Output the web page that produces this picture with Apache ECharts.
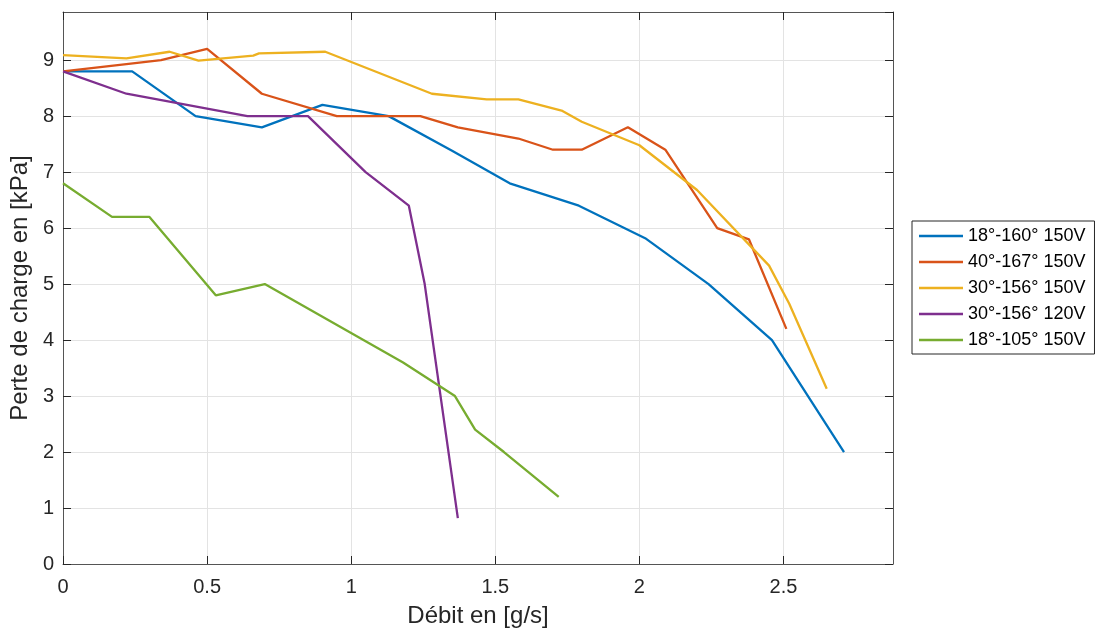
<!DOCTYPE html>
<html>
<head>
<meta charset="utf-8">
<script src="https://cdn.jsdelivr.net/npm/echarts@6/dist/echarts.min.js"></script>
<style>
html,body{margin:0;padding:0;background:#fff;}
#chart{width:1099px;height:636px;}
</style>
</head>
<body>
<div id="chart"></div>
<script>
const seriesNames = ['18°-160° 150V', '40°-167° 150V', '30°-156° 150V', '30°-156° 120V', '18°-105° 150V'];
const seriesColors = ['#0072BD', '#D95319', '#EDB120', '#7E2F8E', '#77AC30'];

const blue = [[0,8.8],[0.24,8.8],[0.46,8.0],[0.69,7.8],[0.9,8.2],[1.13,8.0],[1.35,7.38],[1.55,6.8],[1.79,6.4],[2.02,5.82],[2.24,5.0],[2.46,4.0],[2.71,2.0]];
const orange = [[0,8.8],[0.22,8.93],[0.34,9.0],[0.5,9.2],[0.69,8.4],[0.95,8.0],[1.24,8.0],[1.37,7.8],[1.58,7.6],[1.7,7.4],[1.8,7.4],[1.96,7.8],[2.09,7.4],[2.27,6.0],[2.38,5.8],[2.51,4.2]];
const yellow = [[0,9.09],[0.22,9.03],[0.37,9.15],[0.47,8.99],[0.66,9.08],[0.68,9.12],[0.91,9.15],[1.28,8.4],[1.47,8.3],[1.58,8.3],[1.73,8.1],[1.8,7.9],[2.0,7.48],[2.2,6.68],[2.45,5.33],[2.52,4.65],[2.65,3.13]];
const purple = [[0,8.8],[0.22,8.4],[0.64,8.0],[0.85,8.0],[1.05,7.0],[1.2,6.4],[1.255,5.0],[1.37,0.82]];
const green = [[0,6.8],[0.17,6.2],[0.3,6.2],[0.53,4.8],[0.7,5.0],[1.18,3.6],[1.36,3.0],[1.43,2.4],[1.53,2.0],[1.72,1.2]];
const allData = [blue, orange, yellow, purple, green];

const xTicks = [0, 0.5, 1, 1.5, 2, 2.5];
const yTicks = [0, 1, 2, 3, 4, 5, 6, 7, 8, 9];
const xName = 'Débit en [g/s]';
const yName = 'Perte de charge en [kPa]';

const FONT = '"Liberation Sans", Arial, Helvetica, sans-serif';
const TXT = '#262626';
const AXC = '#555555';

const fmt = v => {
  const x = xTicks.find(t => Math.abs(t - v) < 1e-9);
  return x === undefined ? '' : String(x);
};
const fmtY = v => {
  const y = yTicks.find(t => Math.abs(t - v) < 1e-9);
  return y === undefined ? '' : String(y);
};

const chart = echarts.init(document.getElementById('chart'), null, {renderer: 'canvas'});
const baseAxis = {
  axisLine: {show: true, onZero: false, lineStyle: {color: AXC, width: 1}},
  axisTick: {show: true, inside: true, length: 8, lineStyle: {color: TXT, width: 1}},
  splitLine: {show: false}
};
chart.setOption({
  animation: false,
  backgroundColor: '#fff',
  textStyle: {fontFamily: FONT},
  grid: {left: 63, right: 206, top: 12, bottom: 72, containLabel: false},
  legend: {
    orient: 'vertical',
    left: 912, top: 221,
    data: seriesNames.map(n => ({name: n, icon: 'rect'})),
    itemWidth: 44, itemHeight: 2.5, itemGap: 8,
    padding: [6, 9, 5, 7],
    borderColor: '#262626', borderWidth: 1,
    backgroundColor: '#fff',
    textStyle: {fontFamily: FONT, fontSize: 18, color: '#000', lineHeight: 18}
  },
  xAxis: [
    Object.assign({}, baseAxis, {
      type: 'value', min: 0, max: 2.88, interval: 0.5, position: 'bottom',
      name: xName, nameLocation: 'middle', nameGap: 40,
      nameTextStyle: {fontFamily: FONT, fontSize: 24, color: TXT},
      axisLabel: {show: true, fontFamily: FONT, fontSize: 20, color: TXT, margin: 13, formatter: fmt, showMaxLabel: false},
      splitLine: {show: true, lineStyle: {color: '#e3e3e3', width: 1}}
    }),
    Object.assign({}, baseAxis, {
      type: 'value', min: 0, max: 2.88, interval: 0.5, position: 'top',
      axisLabel: {show: false}
    })
  ],
  yAxis: [
    Object.assign({}, baseAxis, {
      type: 'value', min: 0, max: 9.86, interval: 1, position: 'left',
      name: yName, nameLocation: 'middle', nameGap: 28, nameRotate: 90,
      nameTextStyle: {fontFamily: FONT, fontSize: 24, color: TXT},
      axisLabel: {show: true, fontFamily: FONT, fontSize: 20, color: TXT, margin: 9, formatter: fmtY, showMaxLabel: false},
      splitLine: {show: true, lineStyle: {color: '#e3e3e3', width: 1}}
    }),
    Object.assign({}, baseAxis, {
      type: 'value', min: 0, max: 9.86, interval: 1, position: 'right',
      axisLabel: {show: false}
    })
  ],
  series: allData.map((d, i) => ({
    name: seriesNames[i],
    type: 'line',
    data: d,
    xAxisIndex: 0, yAxisIndex: 0,
    symbol: 'none',
    smooth: false,
    lineStyle: {color: seriesColors[i], width: 2.3},
    itemStyle: {color: seriesColors[i]},
    z: 3
  }))
});
</script>
</body>
</html>
